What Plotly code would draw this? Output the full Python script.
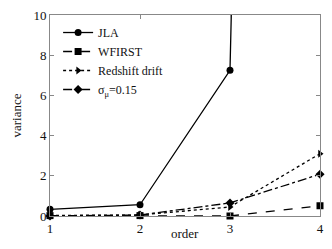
import plotly.graph_objects as go

orders = [1, 2, 3, 4]
jla = [0.33, 0.56, 7.25, 200.0]
wfirst = [0.02, 0.02, 0.0, 0.51]
redshift = [0.03, 0.05, 0.45, 3.1]
sigma = [0.0, 0.05, 0.65, 2.08]

series = [
    ("JLA", jla, "solid", "circle"),
    ("WFIRST", wfirst, "dash", "square"),
    ("Redshift drift", redshift, "dot", "triangle-right"),
    ("σ<sub>μ</sub>=0.15", sigma, "dashdot", "diamond"),
]

fig = go.Figure()
for name, vals, dash, sym in series:
    fig.add_trace(go.Scatter(
        x=orders, y=vals, name=name, mode="lines+markers",
        line=dict(color="black", width=1.3, dash=dash),
        marker=dict(symbol=sym, size=7, color="black"),
        cliponaxis=False,
    ))

fig.update_layout(
    width=332, height=249,
    margin=dict(l=50, r=10, t=8, b=33),
    paper_bgcolor="white", plot_bgcolor="white",
    font=dict(family="Liberation Serif", size=13, color="#111"),
    showlegend=True,
    legend=dict(x=0.03, y=0.985, xanchor="left", yanchor="top",
                bgcolor="rgba(0,0,0,0)",
                font=dict(family="Liberation Serif", size=12, color="#111"),
                itemwidth=30, tracegroupgap=0),
)
fig.update_xaxes(range=[1, 4], tickvals=[1, 2, 3, 4], showgrid=False,
                 zeroline=False, showline=True, linecolor="#888", linewidth=1,
                 mirror="ticks", ticks="inside", ticklen=4, tickcolor="#888",
                 ticklabeloverflow="allow")
fig.update_yaxes(range=[0, 10], tickvals=[0, 2, 4, 6, 8, 10], showgrid=False,
                 zeroline=False, showline=True, linecolor="#888", linewidth=1,
                 mirror="ticks", ticks="inside", ticklen=4, tickcolor="#888",
                 ticklabeloverflow="allow",
                 title=dict(text="variance", standoff=8, font=dict(size=13)))
fig.add_annotation(text="order", x=0.5, xref="paper", y=-0.085, yref="paper",
                   yanchor="middle", showarrow=False, font=dict(size=13))

fig.write_html("out.html", config={"displayModeBar": False},
               post_script="document.body.style.margin='0';")
